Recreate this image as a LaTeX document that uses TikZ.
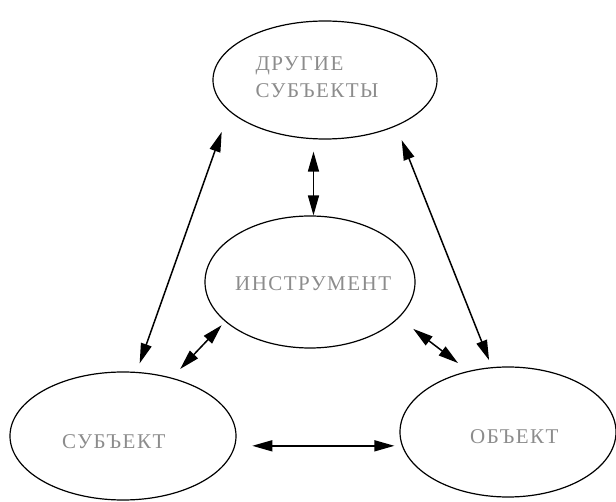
\documentclass[tikz,border=0pt]{standalone}
\usepackage{fontspec}
\newfontfamily\courfont[LetterSpace=7]{Liberation Serif}
\usetikzlibrary{shapes.geometric,arrows.meta}
\begin{document}
\begin{tikzpicture}[x=1pt,y=-1pt,
  oval/.style={draw=black, line width=1.2pt, ellipse, inner sep=0pt},
  lbl/.style={text=black!45, inner sep=0pt, font=\courfont\fontsize{21}{27}\selectfont},
  arr/.style={line width=1.5pt, {Triangle[length=20pt,width=11pt]}-{Triangle[length=20pt,width=11pt]}}]
\useasboundingbox (0,0) rectangle (616,502);
\node[oval, minimum width=224pt, minimum height=118pt] (T) at (325,80) {};
\node[oval, minimum width=210pt, minimum height=132pt] (M) at (310,282) {};
\node[oval, minimum width=226pt, minimum height=128pt] (S) at (123,436) {};
\node[oval, minimum width=216pt, minimum height=130pt] (O) at (508,432) {};
\node[lbl, align=left] (tT) at (317,77.5) {ДРУГИЕ\\СУБЪЕКТЫ};
\node[lbl, anchor=base west] (tM) at (235,291) {ИНСТРУМЕНТ};
\node[lbl, anchor=base west] (tS) at (62,449) {СУБЪЕКТ};
\node[lbl, anchor=base west] (tO) at (470,444) {ОБЪЕКТ};
\draw[arr, shorten >=12pt] (M.87) -- (M.87 |- T.south);
\draw[arr, shorten <=9pt, shorten >=22pt] (S.78) -- (T.198);
\draw[arr, shorten <=12pt, shorten >=5pt] (S.50) -- (M.205);
\draw[arr, shorten <=15pt, shorten >=7.5pt] (T.-33) -- (O.104);
\draw[arr, shorten <=18pt, shorten >=13pt] (M.-22) -- (O.123);
\draw[arr, shorten <=17pt, shorten >=5pt] (S.-5) -- (S.-5 -| O.west);
\end{tikzpicture}
\end{document}
